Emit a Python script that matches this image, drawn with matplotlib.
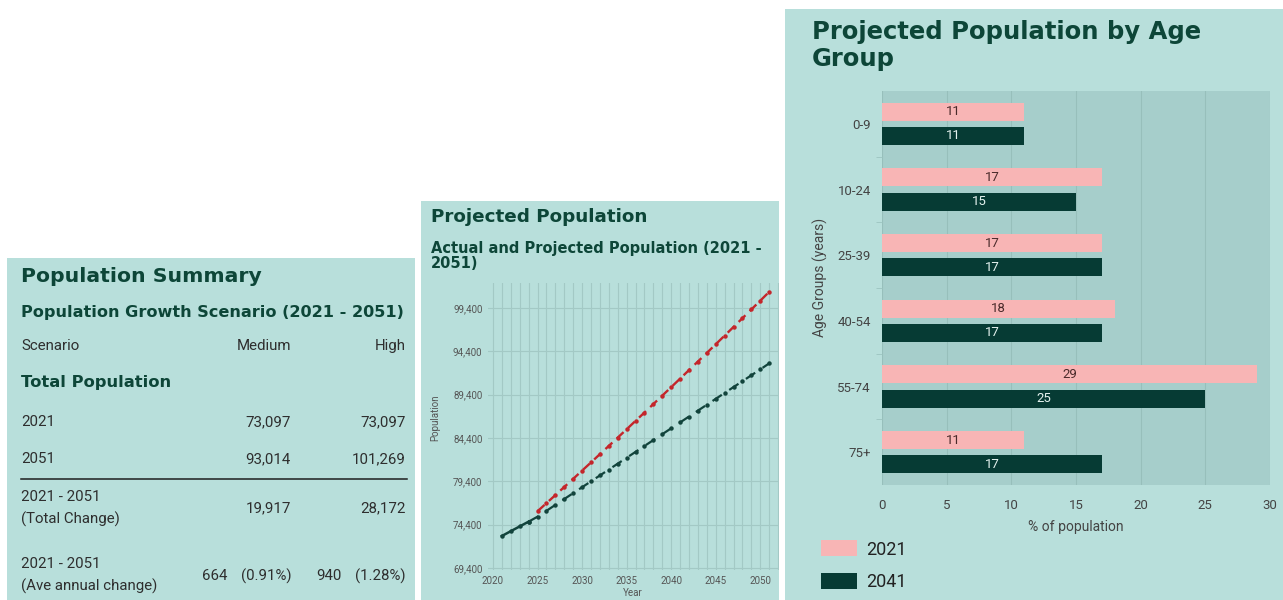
import matplotlib.pyplot as plt
from matplotlib.patches import Rectangle
from matplotlib.ticker import FuncFormatter, MultipleLocator

W, H = 1283, 600

# ---- data -------------------------------------------------------------
scenario_cols = ['Medium', 'High']
pop_2021 = ['73,097', '73,097']
pop_2051 = ['93,014', '101,269']
total_change = ['19,917', '28,172']
annual_change = [('664', '(0.91%)'), ('940', '(1.28%)')]

actual_years = [2021, 2022, 2023, 2024]
actual_pop = [73097, 73650, 74200, 74750]
medium_years = list(range(2024, 2052))
medium_pop = [74750, 75320, 76000, 76680, 77360, 78040, 78720, 79400,
              80080, 80760, 81440, 82120, 82800, 83480, 84160, 84840,
              85520, 86200, 86880, 87560, 88240, 88920, 89600, 90280,
              90960, 91640, 92320, 93014]
high_years = list(range(2025, 2052))
high_pop = [75950, 76880, 77810, 78750, 79690, 80640, 81580, 82540,
            83490, 84450, 85410, 86380, 87340, 88320, 89290, 90270,
            91250, 92240, 93230, 94220, 95220, 96220, 97220, 98230,
            99240, 100250, 101269]

age_groups = ['0-9', '10-24', '25-39', '40-54', '55-74', '75+']
share_2021 = [11, 17, 17, 18, 29, 11]
share_2041 = [11, 15, 17, 17, 25, 17]

# ---- styles -----------------------------------------------------------
PANEL = '#b8dfdb'
PLOT_BG = '#a6cecb'
TITLE = '#0d4638'
TEXT = '#2e2e2e'
GREY = '#555555'
RED = '#c4262b'
DARK = '#12443c'
PINK = '#f8b5b5'
BAR_DARK = '#063b34'
TITLE_FONT = 'DejaVu Sans'
BODY_FONT = 'Roboto'
BODY = 10.8

plt.rcParams['font.family'] = BODY_FONT

fig = plt.figure(figsize=(W / 100, H / 100), dpi=100)
fig.patch.set_facecolor('white')


def fx(x):
    return x / W


def fy(y):
    return 1 - y / H


def rect(l, t, r, b):
    return [l / W, 1 - b / H, (r - l) / W, (b - t) / H]


def panel(l, t, r, b):
    fig.patches.append(Rectangle((l / W, 1 - b / H), (r - l) / W, (b - t) / H,
                                 transform=fig.transFigure, facecolor=PANEL,
                                 edgecolor='none', zorder=-10))


def txt(x, y, s, size=BODY, ha='left', bold=False, color=TEXT, family=BODY_FONT):
    fig.text(fx(x), fy(y), s, ha=ha, va='center', fontsize=size,
             fontweight='bold' if bold else 'normal', color=color, family=family)


panel(7, 258, 415, 600)
panel(421, 201, 779, 600)
panel(785, 9, 1283, 600)

# ---- left: population summary table -----------------------------------
txt(21, 277, 'Population Summary', size=14.7, bold=True, color=TITLE, family=TITLE_FONT)
txt(21, 312, 'Population Growth Scenario (2021 - 2051)', size=11.65, bold=True,
    color=TITLE, family=TITLE_FONT)
col_x = [291, 406]
txt(21, 346, 'Scenario')
for cx, name in zip(col_x, scenario_cols):
    txt(cx, 346, name, ha='right')
txt(21, 383, 'Total Population', size=11.8, bold=True, color=TITLE, family=TITLE_FONT)
txt(21, 422, '2021')
txt(21, 459, '2051')
for cx, a, b in zip(col_x, pop_2021, pop_2051):
    txt(cx, 422, a, ha='right')
    txt(cx, 459, b, ha='right')
fig.add_artist(plt.Line2D([fx(21), fx(407)], [fy(479), fy(479)], color='#1e1e1e', lw=1.1))
txt(21, 497, '2021 - 2051')
txt(21, 519, '(Total Change)')
for cx, v in zip(col_x, total_change):
    txt(cx, 508, v, ha='right')
txt(21, 564, '2021 - 2051')
txt(21, 586, '(Ave annual change)')
for cx, (n, p) in zip(col_x, annual_change):
    txt(cx - 64, 576, n, ha='right')
    txt(cx, 576, p, ha='right')

# ---- middle: projected population line chart --------------------------
txt(431, 217, 'Projected Population', size=13.25, bold=True, color=TITLE, family=TITLE_FONT)
txt(431, 248, 'Actual and Projected Population (2021 -', size=10.5, bold=True,
    color=TITLE, family=TITLE_FONT)
txt(431, 263, '2051)', size=10.5, bold=True, color=TITLE, family=TITLE_FONT)

ax = fig.add_axes(rect(488, 283, 779, 570))
ax.set_facecolor(PANEL)
ax.plot(high_years, high_pop, color=RED, lw=1.7, ls=(0, (4, 2.5)),
        marker='o', ms=2.2, zorder=3)
ax.plot(medium_years, medium_pop, color=DARK, lw=1.6, ls=(0, (5, 4)),
        marker='o', ms=2.2, zorder=3)
ax.plot(actual_years, actual_pop, color=DARK, lw=1.8, marker='o', ms=2.2, zorder=4)
ax.set_xlim(2019.44, 2052.1)
ax.set_ylim(69169, 102289)
ax.xaxis.set_major_locator(MultipleLocator(5))
ax.xaxis.set_minor_locator(MultipleLocator(1))
ax.set_yticks([69400, 74400, 79400, 84400, 89400, 94400, 99400])
ax.yaxis.set_major_formatter(FuncFormatter(lambda v, p: f'{int(v):,}'))
ax.grid(True, which='major', axis='y', color='#a3c9c5', lw=0.8)
ax.grid(True, which='both', axis='x', color='#a3c9c5', lw=0.8)
ax.tick_params(which='both', length=0, labelsize=7, labelcolor=GREY, pad=4)
for s in ax.spines.values():
    s.set_visible(False)
ax.set_axisbelow(True)
fig.text(fx(435), fy(418), 'Population', rotation=90, ha='center', va='center',
         fontsize=7, color=GREY)
fig.text(fx(633), fy(593), 'Year', ha='center', va='center', fontsize=7, color=GREY)

# ---- right: age group bars --------------------------------------------
txt(812, 32, 'Projected Population by Age', size=17.5, bold=True, color=TITLE,
    family=TITLE_FONT)
txt(812, 59, 'Group', size=17.5, bold=True, color=TITLE, family=TITLE_FONT)

bx = fig.add_axes(rect(882, 91, 1270, 485))
bx.set_facecolor(PLOT_BG)
pos = list(range(len(age_groups)))
off, bh = 0.183, 0.274
b1 = bx.barh([p - off for p in pos], share_2021, height=bh, color=PINK, label='2021', zorder=3)
b2 = bx.barh([p + off for p in pos], share_2041, height=bh, color=BAR_DARK, label='2041', zorder=3)
bx.bar_label(b1, label_type='center', color='#4a2a2a', fontsize=9.5)
bx.bar_label(b2, label_type='center', color='#e4f2ef', fontsize=9.5)
bx.set_xlim(0, 30)
bx.set_ylim(5.5, -0.5)
bx.set_yticks(pos)
bx.set_yticklabels(age_groups)
bx.set_yticks([p + 0.5 for p in pos[:-1]], minor=True)
bx.xaxis.set_major_locator(MultipleLocator(5))
bx.grid(True, axis='x', color='#97bfbb', lw=0.8)
bx.set_axisbelow(True)
bx.tick_params(axis='y', which='major', length=0, labelsize=9.5, labelcolor='#444444', pad=8)
bx.tick_params(axis='y', which='minor', length=4, color='#9cc4c0')
bx.tick_params(axis='x', length=0, labelsize=9.5, labelcolor='#444444', pad=10)
for s in bx.spines.values():
    s.set_visible(False)
bx.set_xlabel('% of population', fontsize=10, color='#444444', labelpad=6)
fig.text(fx(820), fy(277), 'Age Groups (years)', rotation=90, ha='center', va='center',
         fontsize=10, color='#444444')

fig.legend(handles=[b1, b2], labels=['2021', '2041'], loc='upper left',
           bbox_to_anchor=(fx(805), fy(524)), frameon=False, fontsize=13,
           handlelength=2.0, handleheight=1.0, handletextpad=0.5,
           labelspacing=0.8, labelcolor='#222222')

fig.savefig('out.png', dpi=100, facecolor='white')
